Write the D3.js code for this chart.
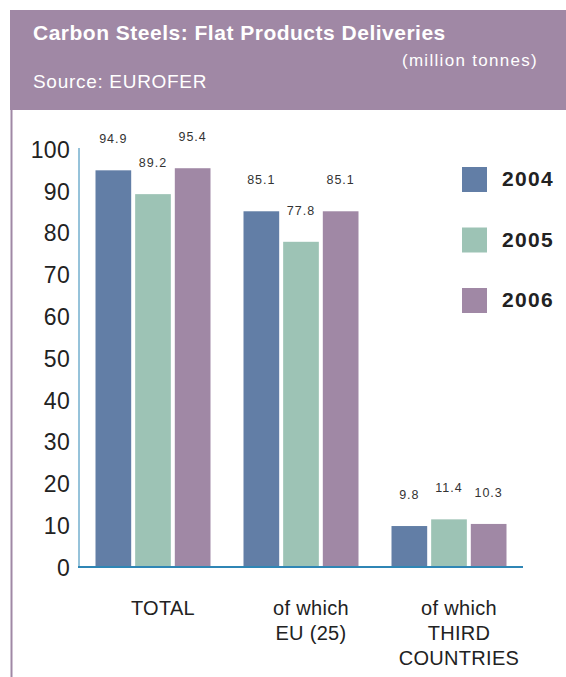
<!DOCTYPE html>
<html><head><meta charset="utf-8">
<script src="https://cdn.jsdelivr.net/npm/d3@7"></script>
<style>body{margin:0;background:#fff}svg{display:block}</style>
</head><body>
<svg id="c" width="566" height="677"></svg>
<script>
const categories = [["TOTAL"], ["of which", "EU (25)"], ["of which", "THIRD", "COUNTRIES"]];
const years = ["2004", "2005", "2006"];
const values2004 = [94.9, 85.1, 9.8];
const values2005 = [89.2, 77.8, 11.4];
const values2006 = [95.4, 85.1, 10.3];
const yTicks = [0, 10, 20, 30, 40, 50, 60, 70, 80, 90, 100];
const colors = ["#627ea6", "#9dc3b5", "#a088a5"];

const series = [values2004, values2005, values2006];
const svg = d3.select("#c");
const font = "'Liberation Sans', Arial, sans-serif";

// header
svg.append("rect").attr("x", 10).attr("y", 10).attr("width", 556).attr("height", 100).attr("fill", "#a088a5");
svg.append("rect").attr("x", 10.5).attr("y", 110).attr("width", 2).attr("height", 567).attr("fill", "#a088a5");
svg.append("text").attr("x", 33).attr("y", 40).attr("fill", "#fff").attr("font-family", font)
  .attr("font-weight", "bold").attr("font-size", 21).attr("letter-spacing", 0.5)
  .text("Carbon Steels: Flat Products Deliveries");
svg.append("text").attr("x", 538).attr("y", 66).attr("text-anchor", "end").attr("fill", "#fff").attr("font-family", font)
  .attr("font-size", 17).attr("letter-spacing", 1.3).text("(million tonnes)");
svg.append("text").attr("x", 33).attr("y", 88).attr("fill", "#fff").attr("font-family", font)
  .attr("font-size", 19).attr("letter-spacing", 0.7).text("Source: EUROFER");

const idx = categories.map((d, i) => i);
const x0 = d3.scaleBand().domain(idx).range([79, 523]);
const x1 = d3.scaleBand().domain(years).range([-57.5, 57.5]).paddingInner(0.1);
const y = d3.scaleLinear().domain([0, 100]).range([567, 149]);

// y tick labels
const yAxis = svg.append("g").attr("transform", "translate(79,0)")
  .call(d3.axisLeft(y).tickValues(yTicks).tickSize(0).tickPadding(9));
yAxis.select(".domain").remove();
yAxis.selectAll("text").attr("font-family", font).attr("font-size", 23).attr("fill", "#222")
  .attr("letter-spacing", 0.3).attr("dy", "0.36em");

// bars
const g = svg.append("g");
idx.forEach(ci => {
  years.forEach((yr, si) => {
    const v = series[si][ci];
    const cx = x0(ci) + x0.bandwidth() / 2;
    g.append("rect").attr("x", cx + x1(yr)).attr("width", x1.bandwidth())
      .attr("y", y(v)).attr("height", y(0) - y(v)).attr("fill", colors[si]);
    g.append("text").attr("x", cx + x1(yr) + x1.bandwidth() / 2).attr("y", y(v) - 27)
      .attr("text-anchor", "middle").attr("font-family", font).attr("font-size", 12.5)
      .attr("letter-spacing", 1).attr("fill", "#333").text(v.toFixed(1));
  });
});

// axes lines
svg.append("line").attr("x1", 79).attr("x2", 79).attr("y1", 148).attr("y2", 567)
  .attr("stroke", "#2f86b5").attr("stroke-width", 1);
svg.append("line").attr("x1", 78).attr("x2", 523).attr("y1", 567).attr("y2", 567)
  .attr("stroke", "#2f86b5").attr("stroke-width", 2);

// category labels
idx.forEach(ci => {
  const cx = x0(ci) + x0.bandwidth() / 2 + 10;
  categories[ci].forEach((line, li) => {
    svg.append("text").attr("x", cx).attr("y", 615 + li * 25).attr("text-anchor", "middle")
      .attr("font-family", font).attr("font-size", 20).attr("letter-spacing", 0.3)
      .attr("fill", "#222").text(line);
  });
});

// legend
years.forEach((yr, i) => {
  const ly = 167 + i * 60.5;
  svg.append("rect").attr("x", 462).attr("y", ly).attr("width", 25).attr("height", 25).attr("fill", colors[i]);
  svg.append("text").attr("x", 502).attr("y", ly + 19).attr("font-family", font).attr("font-weight", "bold")
    .attr("font-size", 21).attr("letter-spacing", 1.3).attr("fill", "#222").text(yr);
});
</script>
</body></html>
